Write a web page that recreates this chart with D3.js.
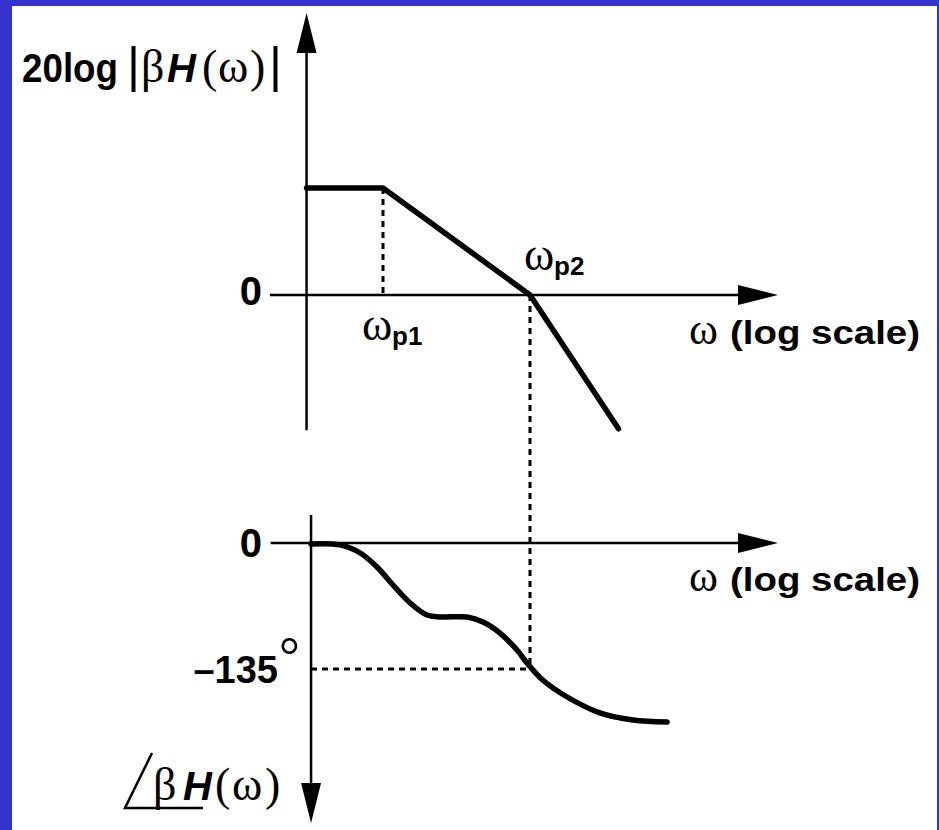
<!DOCTYPE html>
<html>
<head>
<meta charset="utf-8">
<script src="https://cdn.jsdelivr.net/npm/d3@7"></script>
<style>
body { margin: 0; background: #3333cc; }
svg { display: block; }
</style>
</head>
<body>
<div id="my_dataviz"></div>
<script>
// corner frequencies (log scale, arbitrary units)
var wp1 = 10, wp2 = 100;

// magnitude asymptotes: omega -> 20log|bH| in dB
var magOmega = [3.02, 10, 100, 400];
var magDb = [20, 20, 0, -25];

// phase curve: omega -> degrees
var phaseOmega = [3.24, 5.1, 7, 9.1, 11.7, 15.3, 19.9, 24.4, 37.3, 47.9, 62.5, 81.6, 95.4, 122, 179, 299, 502, 855];
var phaseDeg = [-1, -2, -10.7, -25.7, -45, -64.3, -77.2, -79.3, -79.3, -84.7, -96.5, -114.7, -128.6, -146.8, -165, -182, -189.7, -191.8];

// tick labels
var magTicks = [0];
var phaseTicks = [0, -135];
var phaseMark = -135;

// how far the axes reach (data units)
var magAxisOmega = [1.7, 4865];   // horizontal axis, left end / arrow tip
var magAxisDb = [-25.3, 52.7];    // vertical axis, bottom / arrow tip
var magOrigin = 3.02;
var phaseAxisOmega = [1.72, 4865];
var phaseAxisDeg = [30, -300];
var phaseOrigin = 3.24;

var width = 939, height = 830;

var svg = d3.select("#my_dataviz")
  .append("svg")
    .attr("width", width)
    .attr("height", height);

// white sheet inside the blue frame
svg.append("rect")
  .attr("x", 12).attr("y", 6)
  .attr("width", 925).attr("height", 824)
  .attr("fill", "white");

// scales
var xScale = d3.scaleLog().domain([wp1, wp2]).range([383, 530]);
var yMag = d3.scaleLinear().domain([0, 20]).range([295, 188]);
var yPhase = d3.scaleLinear().domain([0, -135]).range([543, 669]);

var sans = "'Liberation Sans', Arial, sans-serif";
var serif = "'Liberation Serif', 'Times New Roman', serif";

// arrow head, tip at (x,y), pointing dir: "up" "down" "right"
function arrowHead(x, y, dir) {
  var L = 40, W = 10;
  if (dir == "up") return "M" + x + "," + y + "L" + (x - W) + "," + (y + L) + "L" + (x + W) + "," + (y + L) + "Z";
  if (dir == "down") return "M" + x + "," + y + "L" + (x - W) + "," + (y - L) + "L" + (x + W) + "," + (y - L) + "Z";
  return "M" + x + "," + y + "L" + (x - L) + "," + (y - W) + "L" + (x - L) + "," + (y + W) + "Z";
}

var axes = svg.append("g").attr("stroke", "black").attr("stroke-width", 2.5);

// ---- magnitude axes
axes.append("line")
  .attr("x1", xScale(magOrigin)).attr("x2", xScale(magOrigin))
  .attr("y1", yMag(magAxisDb[0])).attr("y2", yMag(magAxisDb[1]) + 30);
svg.append("path").attr("d", arrowHead(xScale(magOrigin), yMag(magAxisDb[1]), "up"));
axes.append("line")
  .attr("x1", xScale(magAxisOmega[0])).attr("x2", xScale(magAxisOmega[1]) - 30)
  .attr("y1", yMag(0)).attr("y2", yMag(0));
svg.append("path").attr("d", arrowHead(xScale(magAxisOmega[1]), yMag(0), "right"));

// ---- phase axes
axes.append("line")
  .attr("x1", xScale(phaseOrigin)).attr("x2", xScale(phaseOrigin))
  .attr("y1", yPhase(phaseAxisDeg[0])).attr("y2", yPhase(phaseAxisDeg[1]) - 30);
svg.append("path").attr("d", arrowHead(xScale(phaseOrigin), yPhase(phaseAxisDeg[1]), "down"));
axes.append("line")
  .attr("x1", xScale(phaseAxisOmega[0])).attr("x2", xScale(phaseAxisOmega[1]) - 30)
  .attr("y1", yPhase(0)).attr("y2", yPhase(0));
svg.append("path").attr("d", arrowHead(xScale(phaseAxisOmega[1]), yPhase(0), "right"));

// ---- dashed guide lines
var dash = svg.append("g")
  .attr("stroke", "black").attr("stroke-width", 3)
  .attr("stroke-dasharray", "6,5");
dash.append("line")
  .attr("x1", xScale(wp1)).attr("x2", xScale(wp1))
  .attr("y1", yMag(magDb[1])).attr("y2", yMag(0));
dash.append("line")
  .attr("x1", xScale(wp2)).attr("x2", xScale(wp2))
  .attr("y1", yMag(0)).attr("y2", yPhase(phaseMark));
dash.append("line")
  .attr("x1", xScale(phaseOrigin)).attr("x2", xScale(wp2))
  .attr("y1", yPhase(phaseMark)).attr("y2", yPhase(phaseMark));

// ---- curves
var magData = magOmega.map(function(w, i) { return {w: w, v: magDb[i]}; });
var phaseData = phaseOmega.map(function(w, i) { return {w: w, v: phaseDeg[i]}; });

svg.append("path")
  .attr("d", d3.line()
    .x(function(d) { return xScale(d.w); })
    .y(function(d) { return yMag(d.v); })(magData))
  .attr("fill", "none")
  .attr("stroke", "black")
  .attr("stroke-width", 5.5)
  .attr("stroke-linejoin", "round")
  .attr("stroke-linecap", "round");

svg.append("path")
  .attr("d", d3.line()
    .curve(d3.curveCatmullRom.alpha(0.5))
    .x(function(d) { return xScale(d.w); })
    .y(function(d) { return yPhase(d.v); })(phaseData))
  .attr("fill", "none")
  .attr("stroke", "black")
  .attr("stroke-width", 5.5)
  .attr("stroke-linecap", "round");

// ---- tick labels
svg.selectAll(".magTick")
  .data(magTicks)
  .enter().append("text")
    .attr("class", "magTick")
    .attr("x", 262)
    .attr("y", function(d) { return yMag(d) + 10; })
    .attr("text-anchor", "end")
    .attr("font-family", sans).attr("font-weight", "bold").attr("font-size", 40)
    .text(function(d) { return d; });

svg.selectAll(".phaseTick")
  .data(phaseTicks)
  .enter().append("text")
    .attr("class", "phaseTick")
    .attr("x", function(d) { return d == 0 ? 262 : 278; })
    .attr("y", function(d) { return yPhase(d) + 14; })
    .attr("text-anchor", "end")
    .attr("font-family", sans).attr("font-weight", "bold")
    .attr("font-size", function(d) { return d == 0 ? 40 : 38; })
    .text(function(d) { return d < 0 ? "\u2013" + (-d) : d; });

// degree sign after -135
svg.append("text")
  .attr("x", 279).attr("y", yPhase(phaseMark) + 4)
  .attr("font-family", serif).attr("font-size", 52)
  .text("\u00b0");

// ---- omega labels
function omegaLabel(x, y, sub) {
  var t = svg.append("text").attr("y", y);
  t.append("tspan").attr("x", x).attr("font-family", serif).attr("font-size", 46).text("\u03c9");
  t.append("tspan").attr("x", x + 30).attr("dy", 5)
    .attr("font-family", sans).attr("font-weight", "bold").attr("font-size", 26).text(sub);
}
omegaLabel(xScale(wp1) - 21, yMag(0) + 45, "p1");
omegaLabel(xScale(wp2) - 6, yMag(0) - 25, "p2");

function freqLabel(y) {
  var t = svg.append("text").attr("y", y);
  t.append("tspan").attr("x", 689).attr("font-family", serif).attr("font-size", 44).text("\u03c9");
  t.append("tspan").attr("x", 730)
    .attr("font-family", sans).attr("font-weight", "bold").attr("font-size", 34)
    .attr("textLength", 190).attr("lengthAdjust", "spacingAndGlyphs")
    .text("(log scale)");
}
freqLabel(yMag(0) + 49);
freqLabel(yPhase(0) + 48);

// ---- axis titles
function betaH(t, xs) {
  t.append("tspan").attr("x", xs[0]).attr("font-family", serif).attr("font-size", 46).text("\u03b2");
  t.append("tspan").attr("x", xs[1]).attr("font-family", sans).attr("font-weight", "bold")
    .attr("font-style", "italic").attr("font-size", 40).text("H");
  t.append("tspan").attr("x", xs[2]).attr("font-family", serif).attr("font-size", 46).text("(");
  t.append("tspan").attr("x", xs[3]).attr("font-family", serif).attr("font-size", 46).text("\u03c9");
  t.append("tspan").attr("x", xs[4]).attr("font-family", serif).attr("font-size", 46).text(")");
}

var magTitle = svg.append("text").attr("y", 82);
magTitle.append("tspan").attr("x", 22)
  .attr("font-family", sans).attr("font-weight", "bold").attr("font-size", 40)
  .attr("textLength", 96).attr("lengthAdjust", "spacingAndGlyphs")
  .text("20log");
magTitle.append("tspan").attr("x", 127).attr("font-family", sans).attr("font-size", 50).text("|");
betaH(magTitle, [141, 167, 202, 218, 250]);
magTitle.append("tspan").attr("x", 269).attr("font-family", sans).attr("font-size", 50).text("|");

var phaseTitle = svg.append("text").attr("y", 800);
betaH(phaseTitle, [153, 183, 215, 232, 265]);
// angle sign drawn under the title
svg.append("path")
  .attr("d", "M152,753L125,808L203,808")
  .attr("fill", "none")
  .attr("stroke", "black")
  .attr("stroke-width", 2.5);
</script>
</body>
</html>
